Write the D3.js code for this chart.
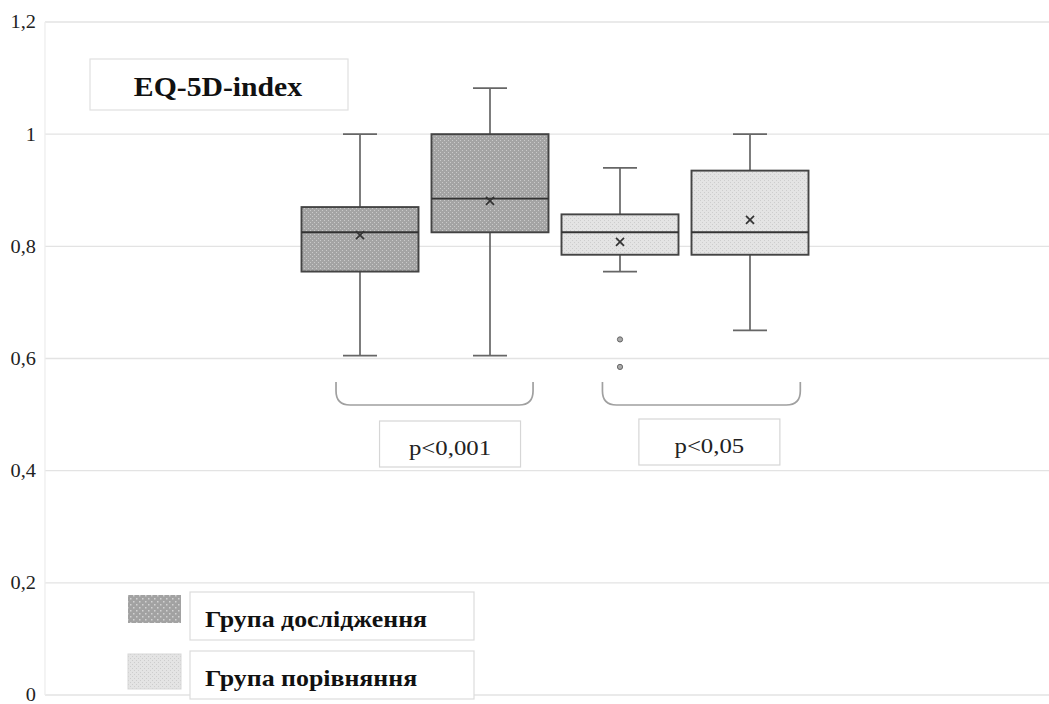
<!DOCTYPE html>
<html>
<head>
<meta charset="utf-8">
<script src="https://cdn.jsdelivr.net/npm/d3@7"></script>
<style>
  html, body { margin: 0; padding: 0; background: #fff; }
  svg { display: block; }
  text { font-family: "Liberation Serif", "Times New Roman", serif; }
</style>
</head>
<body>
<svg id="chart" width="1049" height="704"></svg>
<script>
// EQ-5D index: four distributions, two per group
const seriesKeys = ["study1", "study2", "comp1", "comp2"];
const seriesGroup = ["study", "study", "comp", "comp"];
const whiskerLow = [0.605, 0.605, 0.755, 0.65];
const q1 = [0.755, 0.825, 0.785, 0.785];
const median = [0.825, 0.885, 0.825, 0.825];
const q3 = [0.87, 1.0, 0.857, 0.935];
const whiskerHigh = [1.0, 1.082, 0.94, 1.0];
const means = [0.82, 0.881, 0.808, 0.847];
const outliers = [[], [], [0.634, 0.585], []];

const yTicks = [0, 0.2, 0.4, 0.6, 0.8, 1, 1.2];
const yTickLabels = ["0", "0,2", "0,4", "0,6", "0,8", "1", "1,2"];

const groupLabels = { study: "Група дослідження", comp: "Група порівняння" };
const titleText = "EQ-5D-index";
const comparisons = [
  { from: "study1", to: "study2", label: "p<0,001" },
  { from: "comp1", to: "comp2", label: "p<0,05" }
];

const svg = d3.select("#chart");
const plot = { left: 45, right: 1049, top: 22, bottom: 695 };

const y = d3.scaleLinear().domain([0, 1.2]).range([plot.bottom, plot.top]);
const x = d3.scaleBand().domain(seriesKeys).range([295, 815])
  .paddingInner(0.1).paddingOuter(0.05);

// widen text glyphs horizontally around an anchor x
const stretch = (sel, cx, k) =>
  sel.attr("transform", `translate(${cx},0) scale(${k},1) translate(${-cx},0)`);

// dotted fill patterns
const defs = svg.append("defs");
const pStudy = defs.append("pattern").attr("id", "pat-study")
  .attr("patternUnits", "userSpaceOnUse").attr("width", 4).attr("height", 4);
pStudy.append("rect").attr("width", 4).attr("height", 4).attr("fill", "#a4a4a4");
pStudy.append("rect").attr("x", 0).attr("y", 0).attr("width", 1).attr("height", 1).attr("fill", "#cacaca");
pStudy.append("rect").attr("x", 2).attr("y", 2).attr("width", 1).attr("height", 1).attr("fill", "#cacaca");

const pComp = defs.append("pattern").attr("id", "pat-comp")
  .attr("patternUnits", "userSpaceOnUse").attr("width", 4).attr("height", 4);
pComp.append("rect").attr("width", 4).attr("height", 4).attr("fill", "#e4e4e4");
pComp.append("rect").attr("x", 0).attr("y", 0).attr("width", 1).attr("height", 1).attr("fill", "#cdcdcd");
pComp.append("rect").attr("x", 2).attr("y", 2).attr("width", 1).attr("height", 1).attr("fill", "#cdcdcd");

const pLegStudy = defs.append("pattern").attr("id", "pat-leg-study")
  .attr("patternUnits", "userSpaceOnUse").attr("width", 6).attr("height", 6);
pLegStudy.append("rect").attr("width", 6).attr("height", 6).attr("fill", "#a2a2a2");
pLegStudy.append("rect").attr("x", 1).attr("y", 1).attr("width", 1.5).attr("height", 1.5).attr("fill", "#d2d2d2");
pLegStudy.append("rect").attr("x", 4).attr("y", 4).attr("width", 1.5).attr("height", 1.5).attr("fill", "#d2d2d2");

const fillFor = g => g === "study" ? "url(#pat-study)" : "url(#pat-comp)";

// gridlines
svg.append("g").selectAll("line").data(yTicks).join("line")
  .attr("x1", plot.left).attr("x2", plot.right)
  .attr("y1", d => y(d)).attr("y2", d => y(d))
  .attr("stroke", "#e3e3e3").attr("stroke-width", 1.3);
svg.append("line").attr("x1", plot.left).attr("x2", plot.left)
  .attr("y1", plot.top).attr("y2", plot.bottom)
  .attr("stroke", "#ececec").attr("stroke-width", 1.2);

// y axis labels
const yAxis = d3.axisLeft(y).tickValues(yTicks)
  .tickFormat((d, i) => yTickLabels[i]).tickSize(0).tickPadding(9);
const gy = svg.append("g").attr("transform", `translate(${plot.left},0)`).call(yAxis);
gy.select(".domain").remove();
gy.selectAll("text").attr("font-family", "Liberation Serif, serif")
  .attr("font-size", 18.5).attr("fill", "#222")
  .attr("transform", "translate(-9,0) scale(1.1,1) translate(9,0)");

// title box
svg.append("rect").attr("x", 90).attr("y", 59).attr("width", 258).attr("height", 51)
  .attr("fill", "#fff").attr("stroke", "#e0e0e0").attr("stroke-width", 1.2);
svg.append("text").attr("x", 218).attr("y", 96).attr("text-anchor", "middle")
  .attr("font-size", 27.5).attr("font-weight", "bold").attr("fill", "#111")
  .call(stretch, 218, 1.08)
  .text(titleText);

// boxes
const boxes = svg.append("g");
seriesKeys.forEach((k, i) => {
  const x0 = x(k), bw = x.bandwidth(), cx = x0 + bw / 2, cap = 17;
  const g = boxes.append("g");
  g.append("line").attr("x1", cx).attr("x2", cx)
    .attr("y1", y(whiskerHigh[i])).attr("y2", y(q3[i]))
    .attr("stroke", "#666").attr("stroke-width", 1.7);
  g.append("line").attr("x1", cx).attr("x2", cx)
    .attr("y1", y(q1[i])).attr("y2", y(whiskerLow[i]))
    .attr("stroke", "#666").attr("stroke-width", 1.7);
  [whiskerHigh[i], whiskerLow[i]].forEach(v => {
    g.append("line").attr("x1", cx - cap).attr("x2", cx + cap)
      .attr("y1", y(v)).attr("y2", y(v))
      .attr("stroke", "#666").attr("stroke-width", 1.7);
  });
  g.append("rect").attr("x", x0).attr("y", y(q3[i]))
    .attr("width", bw).attr("height", y(q1[i]) - y(q3[i]))
    .attr("fill", fillFor(seriesGroup[i]))
    .attr("stroke", "#444").attr("stroke-width", 1.9);
  g.append("line").attr("x1", x0).attr("x2", x0 + bw)
    .attr("y1", y(median[i])).attr("y2", y(median[i]))
    .attr("stroke", "#333").attr("stroke-width", 1.9);
  const my = y(means[i]), s = 4;
  g.append("path")
    .attr("d", `M${cx - s},${my - s}L${cx + s},${my + s}M${cx - s},${my + s}L${cx + s},${my - s}`)
    .attr("stroke", "#333").attr("stroke-width", 1.7);
  outliers[i].forEach(v => {
    g.append("circle").attr("cx", cx).attr("cy", y(v)).attr("r", 2.6)
      .attr("fill", "#aaa").attr("stroke", "#666").attr("stroke-width", 1);
  });
});

// comparison braces and p-value boxes
const braceSpan = [[0.295, 0.868], [0.35, 0.93]];
const labelShift = [15.5, 8];
const labelTop = [421, 419];
comparisons.forEach((c, i) => {
  const xa = x(c.from) + x.bandwidth() * braceSpan[i][0];
  const xb = x(c.to) + x.bandwidth() * braceSpan[i][1];
  const yt = 382, yb = 405, r = 14;
  svg.append("path")
    .attr("d", `M${xa},${yt}L${xa},${yb - r}Q${xa},${yb} ${xa + r},${yb}L${xb - r},${yb}Q${xb},${yb} ${xb},${yb - r}L${xb},${yt}`)
    .attr("fill", "none").attr("stroke", "#a0a0a0").attr("stroke-width", 1.7);
  const cx = (xa + xb) / 2 + labelShift[i];
  const bw = 141, by = labelTop[i];
  svg.append("rect").attr("x", cx - bw / 2).attr("y", by).attr("width", bw).attr("height", 46)
    .attr("fill", "#fff").attr("stroke", "#d6d6d6").attr("stroke-width", 1.2);
  svg.append("text").attr("x", cx).attr("y", by + 34).attr("text-anchor", "middle")
    .attr("font-size", 21).attr("fill", "#222")
    .call(stretch, cx, 1.18)
    .text(c.label);
});

// legend
const legendItems = ["study", "comp"];
const lg = svg.append("g");
legendItems.forEach((g, i) => {
  const ly = i === 0 ? 592 : 651;
  lg.append("rect").attr("x", 128).attr("y", i ? 654 : 595).attr("width", 53).attr("height", i ? 35 : 28)
    .attr("fill", i ? fillFor(g) : "url(#pat-leg-study)").attr("stroke", i ? "#d8d8d8" : "none");
  lg.append("rect").attr("x", 190).attr("y", ly).attr("width", 284).attr("height", 48)
    .attr("fill", "#fff").attr("stroke", "#dcdcdc").attr("stroke-width", 1.2);
  lg.append("text").attr("x", 205).attr("y", ly + 35)
    .attr("font-size", 22.5).attr("font-weight", "bold").attr("fill", "#111")
    .call(stretch, 205, 1.15)
    .text(groupLabels[g]);
});
</script>
</body>
</html>
